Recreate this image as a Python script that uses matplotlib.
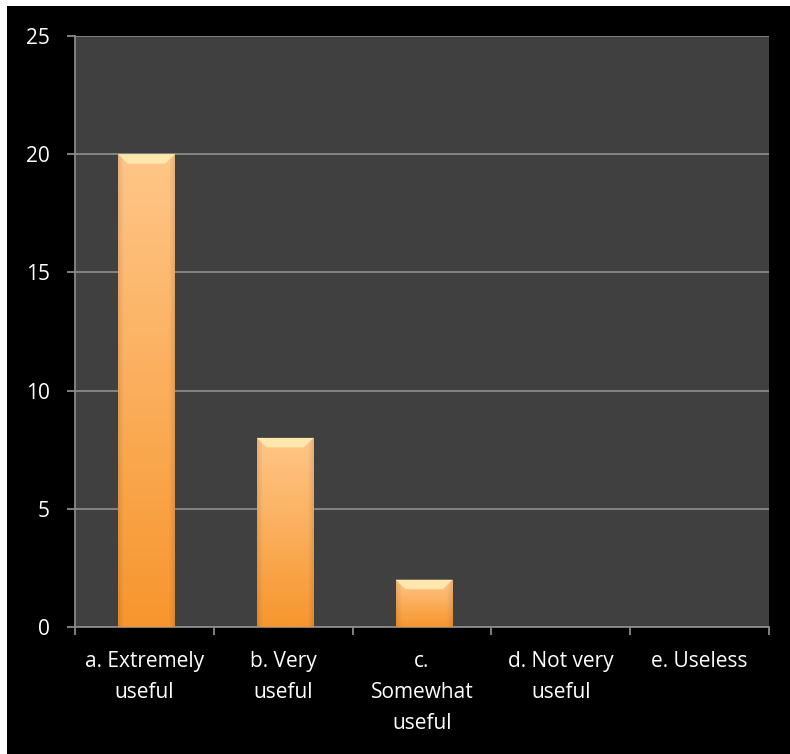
import numpy as np
import matplotlib.pyplot as plt
from matplotlib.patches import Rectangle, Polygon
from matplotlib.colors import to_rgb

categories = ['a. Extremely\nuseful', 'b. Very\nuseful', 'c.\nSomewhat\nuseful',
              'd. Not very\nuseful', 'e. Useless']
counts = [20, 8, 2, 0, 0]
y_ticks = [0, 5, 10, 15, 20, 25]

plt.rcParams['font.family'] = ['Open Sans', 'DejaVu Sans']

fig = plt.figure(figsize=(7.9, 7.54), dpi=100, facecolor='white')
# black slide background with thin white margin on top/left
fig.patches.append(Rectangle((7 / 790, 0), 1, 1 - 6 / 754, transform=fig.transFigure,
                             facecolor='black', edgecolor='none', zorder=-10))

ax = fig.add_axes([75 / 790, 1 - 627 / 754, (769 - 75) / 790, (627 - 36) / 754])
ax.set_facecolor('#404040')

x = np.arange(len(categories))
bar_w = 0.41
bars = ax.bar(x + 0.015, counts, width=bar_w, color='#FBA24A', edgecolor='none', zorder=3)

# gradient fill + top bevel for each bar
top_c = np.array(to_rgb('#FFC688'))
bot_c = np.array(to_rgb('#F7962E'))
ny, nx = 100, 60
t = np.linspace(0, 1, ny)[:, None, None]          # 0 top -> 1 bottom
u = np.linspace(-1, 1, nx)[None, :, None]
shade = 1 - 0.10 * np.clip((np.abs(u) - 0.8) / 0.2, 0, 1)
for b, v in zip(bars, counts):
    if v <= 0:
        continue
    x0, w = b.get_x(), b.get_width()
    img = (top_c * (1 - t) + bot_c * t) * shade
    im = ax.imshow(np.clip(img, 0, 1), extent=(x0, x0 + w, 0, v), aspect='auto',
                   zorder=4, interpolation='bilinear')
    im.set_clip_path(b)
    h = 0.40
    ins = 0.07
    bevel = Polygon([(x0, v), (x0 + w, v), (x0 + w - ins, v - h), (x0 + ins, v - h)],
                    closed=True, facecolor='#FFE7AE', edgecolor='none', zorder=5)
    ax.add_patch(bevel)

ax.set_xlim(-0.5, len(categories) - 0.5)
ax.set_ylim(0, 25)
ax.set_yticks(y_ticks)
ax.yaxis.grid(True, color='#8A8A8A', linewidth=1.3, zorder=1)
ax.set_axisbelow(True)

ax.set_xticks(x)
ax.set_xticklabels(categories, linespacing=1.65)
ax.set_xticks(np.arange(-0.5, len(categories)), minor=True)
ax.tick_params(axis='x', which='major', length=0, pad=17, colors='white', labelsize=15)
ax.tick_params(axis='x', which='minor', length=6, width=1.3, color='#8A8A8A')
ax.tick_params(axis='y', length=6, width=1.3, color='#8A8A8A', labelcolor='white',
               labelsize=15, pad=12)

for side in ['top', 'right']:
    ax.spines[side].set_visible(False)
for side in ['left', 'bottom']:
    ax.spines[side].set_color('#8A8A8A')
    ax.spines[side].set_linewidth(1.3)

fig.savefig('out.png', dpi=100, facecolor=fig.get_facecolor())
